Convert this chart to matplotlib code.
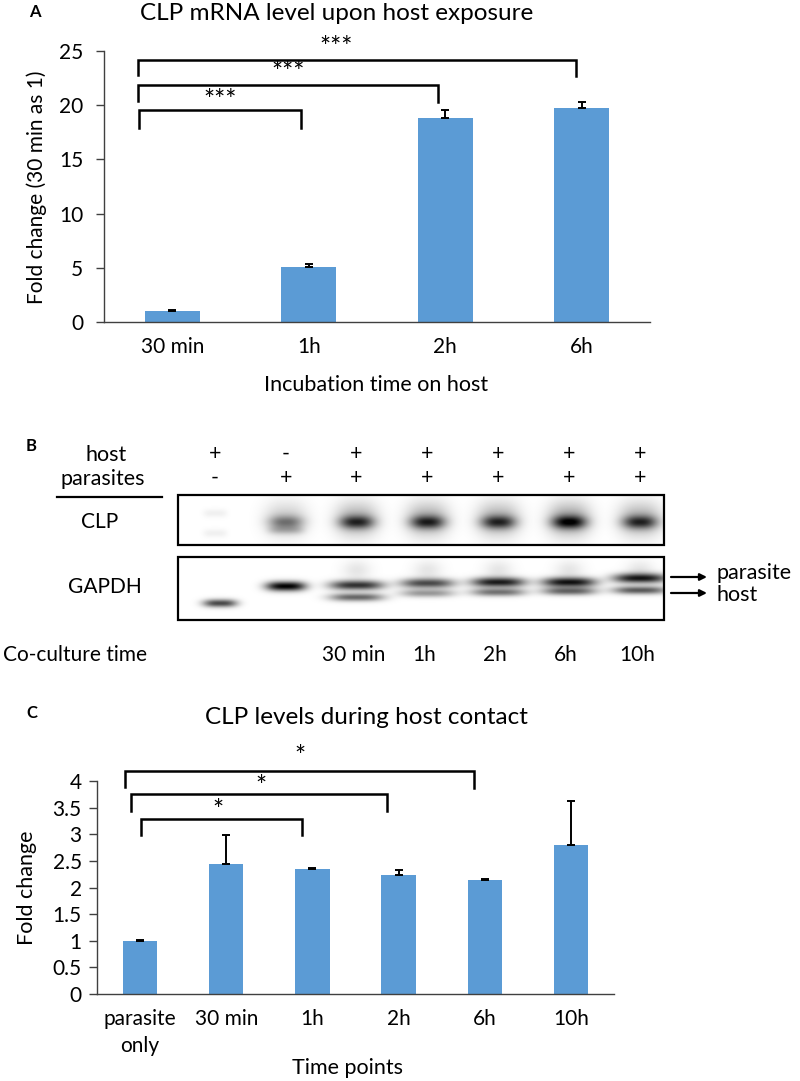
import numpy as np
import matplotlib
matplotlib.use("Agg")
import matplotlib.pyplot as plt
from matplotlib.patches import Rectangle

plt.rcParams['font.family'] = ['Lato', 'DejaVu Sans']

BAR_COLOR = "#5B9BD5"
AX_COLOR = "#404040"
W, H = 800, 1081

# ---- panel A: qPCR ----
a_labels = ["30 min", "1h", "2h", "6h"]
a_values = [1.0, 5.1, 18.85, 19.7]
a_err = [0.14, 0.22, 0.72, 0.62]
# significance brackets (x in category units, y in data units)
a_br_x0 = [-0.24, -0.25, -0.25]
a_br_x1 = [0.94, 1.95, 2.96]
a_br_top = [19.55, 21.9, 24.2]
a_br_low0 = [17.9, 20.4, 22.8]
a_br_low1 = [17.9, 20.3, 22.7]
a_star_x = [0.35, 0.85, 1.2]
a_star_y = [20.3, 22.9, 25.2]
a_stars = ["***", "***", "***"]

# ---- panel B: western blot ----
host_signs = ["+", "-", "+", "+", "+", "+", "+"]
parasite_signs = ["-", "+", "+", "+", "+", "+", "+"]
coculture_times = ["", "", "30 min", "1h", "2h", "6h", "10h"]
clp_intensity = [0.06, 0.5, 0.78, 0.8, 0.78, 0.92, 0.78]
gapdh_parasite = [0.0, 1.0, 0.8, 0.7, 0.88, 0.92, 0.88]
gapdh_host = [0.72, 0.0, 0.6, 0.4, 0.55, 0.6, 0.65]

# ---- panel C: blot quantification ----
c_labels = ["parasite\nonly", "30 min", "1h", "2h", "6h", "10h"]
c_values = [1.0, 2.44, 2.34, 2.24, 2.14, 2.79]
c_err = [0.01, 0.54, 0.02, 0.08, 0.02, 0.84]
c_br_x0 = [0.01, -0.1, -0.17]
c_br_x1 = [1.88, 2.86, 3.88]
c_br_top = [3.29, 3.76, 4.18]
c_br_low0 = [2.98, 3.43, 3.88]
c_br_low1 = [2.98, 3.43, 3.86]
c_star_x = [0.9, 1.4, 1.86]
c_star_y = [3.42, 3.87, 4.45]
c_stars = ["*", "*", "*"]


def px_axes(fig, left, right, top, bottom):
    # axes placed by pixel edges (origin top-left)
    return fig.add_axes([left / W, (H - bottom) / H, (right - left) / W, (bottom - top) / H])


def bar_panel(ax, labels, values, err, ymax, ystep, ypad):
    x = np.arange(len(values))
    ax.bar(x, values, width=0.4, color=BAR_COLOR, zorder=2)
    ax.errorbar(x, values, yerr=[np.zeros(len(err)), err], fmt="none",
                ecolor="black", elinewidth=1.4, capsize=3, capthick=1.4, zorder=3)
    ax.set_xlim(-0.5, len(values) - 0.5)
    ax.set_ylim(0, ymax)
    ticks = np.arange(0, ymax + ystep / 2, ystep)
    ax.set_yticks(ticks)
    ax.set_yticklabels([f"{v:g}" for v in ticks])
    ax.set_xticks(x)
    ax.set_xticklabels(labels)
    for s in ["top", "right"]:
        ax.spines[s].set_visible(False)
    for s in ["left", "bottom"]:
        ax.spines[s].set_color(AX_COLOR)
        ax.spines[s].set_linewidth(1.0)
    ax.tick_params(axis="y", length=6, width=1, color=AX_COLOR, labelsize=15, pad=ypad)
    ax.tick_params(axis="x", length=0, labelsize=15, pad=11)
    ax.patch.set_alpha(0)


def brackets(ax, x0, x1, top, low0, low1, sx, sy, stars, fs):
    for i in range(len(x0)):
        ax.plot([x0[i], x0[i], x1[i], x1[i]], [low0[i], top[i], top[i], low1[i]],
                color="black", lw=1.8, clip_on=False, zorder=4, solid_joinstyle="miter")
        ax.text(sx[i], sy[i], stars[i], ha="center", va="center", fontsize=fs, clip_on=False)


fig = plt.figure(figsize=(W / 100, H / 100), dpi=100)

# overlay for free text and blot, in pixel coordinates
ov = fig.add_axes([0, 0, 1, 1], zorder=0)
ov.set_xlim(0, W)
ov.set_ylim(H, 0)
ov.axis("off")

# panel A
axA = px_axes(fig, 104, 650, 51, 322)
bar_panel(axA, a_labels, a_values, a_err, 25, 5, 9)
brackets(axA, a_br_x0, a_br_x1, a_br_top, a_br_low0, a_br_low1, a_star_x, a_star_y, a_stars, 19)
ov.text(35, 12, "A", fontsize=12, fontweight="bold", ha="center", va="center")
ov.text(337, 14, "CLP mRNA level upon host exposure", fontsize=17.5, ha="center", va="center")
ov.text(37, 187, "Fold change (30 min as 1)", fontsize=15, rotation=90, ha="center", va="center")
ov.text(376, 385, "Incubation time on host", fontsize=15.5, ha="center", va="center")

# panel C
axC = px_axes(fig, 97, 614, 781, 994)
bar_panel(axC, c_labels, c_values, c_err, 4, 0.5, 5)
for lab in axC.get_xticklabels():
    lab.set_linespacing(1.4)
brackets(axC, c_br_x0, c_br_x1, c_br_top, c_br_low0, c_br_low1, c_star_x, c_star_y, c_stars, 19)
ov.text(32, 713, "C", fontsize=12, fontweight="bold", ha="center", va="center")
ov.text(366, 718, "CLP levels during host contact", fontsize=17.5, ha="center", va="center")
ov.text(27, 888, "Fold change", fontsize=15.5, rotation=90, ha="center", va="center")
ov.text(348, 1068, "Time points", fontsize=15.5, ha="center", va="center")

# panel B
lane_px = 215 + 70.8 * np.arange(len(host_signs))
ov.text(31, 446, "B", fontsize=12, fontweight="bold", ha="center", va="center")
ov.text(106, 455, "host", fontsize=15.5, ha="center", va="center")
ov.text(103, 479, "parasites", fontsize=15.5, ha="center", va="center")
ov.plot([57, 162], [497, 497], color="black", lw=1.6)
for i, x in enumerate(lane_px):
    ov.text(x, 454, host_signs[i], fontsize=15.5, ha="center", va="center")
    ov.text(x, 478, parasite_signs[i], fontsize=15.5, ha="center", va="center")
    if coculture_times[i]:
        ov.text(x - 3, 655, coculture_times[i], fontsize=15, ha="center", va="center")
ov.text(3, 655, "Co-culture time", fontsize=15, ha="left", va="center")
ov.text(100, 522, "CLP", fontsize=15, ha="center", va="center")
ov.text(105, 587, "GAPDH", fontsize=15, ha="center", va="center")


def band(X, Y, x0, y0, amp, hw, sy, p=4):
    return amp * np.exp(-(np.abs(X - x0) / hw) ** p) * np.exp(-0.5 * ((Y - y0) / sy) ** 2)


box_l, box_r = 178, 664
# CLP blot
clp_top, clp_bot = 495, 545
X, Y = np.meshgrid(np.arange(box_l, box_r, 0.5), np.arange(clp_top, clp_bot, 0.5))
img = np.zeros_like(X)
for i, x in enumerate(lane_px):
    a = clp_intensity[i]
    if i == 0:
        img += band(X, Y, x, 513, a, 12, 3) + band(X, Y, x, 533, a, 12, 3)
        continue
    img += band(X, Y, x, 522, a * 0.75, 17, 4.5, p=2.5)
    img += band(X, Y, x, 519, a * 0.4, 21, 12, p=2.5)
    if i == 1:
        img += band(X, Y, x, 530, a * 0.35, 18, 3)
img = np.clip(img, 0, 1)
ov.imshow(img, cmap="gray_r", vmin=0, vmax=1, extent=(box_l, box_r, clp_bot, clp_top),
          aspect="auto", interpolation="bilinear")
ov.add_patch(Rectangle((box_l, clp_top), box_r - box_l, clp_bot - clp_top,
                       fill=False, lw=1.6, ec="black"))

# GAPDH blot
g_top, g_bot = 557, 620
gp_y = [586, 586, 585, 583, 582, 582, 578]
gh_y = [603, 603, 597, 593, 592, 591, 590]
gp_hw = [17, 20, 27, 27, 27, 27, 27]
X, Y = np.meshgrid(np.arange(box_l, box_r, 0.5), np.arange(g_top, g_bot, 0.5))
img = np.zeros_like(X)
for i, x in enumerate(lane_px):
    img += band(X, Y, x, gp_y[i], gapdh_parasite[i], gp_hw[i], 3.4, p=3)
    img += band(X, Y, x + (0 if i else 5), gh_y[i], gapdh_host[i], gp_hw[i], 2.8, p=3)
    if i >= 2:
        img += band(X, Y, x, 570, 0.1, 14, 7, p=2)
img = np.clip(img, 0, 1)
ov.imshow(img, cmap="gray_r", vmin=0, vmax=1, extent=(box_l, box_r, g_bot, g_top),
          aspect="auto", interpolation="bilinear")
ov.add_patch(Rectangle((box_l, g_top), box_r - box_l, g_bot - g_top,
                       fill=False, lw=1.6, ec="black"))
ov.set_xlim(0, W)
ov.set_ylim(H, 0)

for yy, lab, ty in [(577, "parasite", 573), (593, "host", 595)]:
    ov.annotate("", xy=(707, yy), xytext=(671, yy),
                arrowprops=dict(arrowstyle="-|>", color="black", lw=1.6,
                                mutation_scale=10, shrinkA=0, shrinkB=0))
    ov.text(716, ty, lab, fontsize=15.5, ha="left", va="center")

fig.savefig("out.png", dpi=100)
